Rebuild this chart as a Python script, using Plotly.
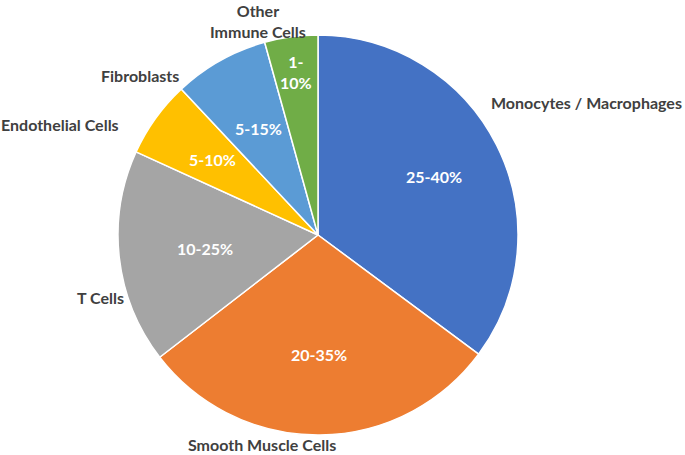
import math
import plotly.graph_objects as go

categories = ["Monocytes / Macrophages", "Smooth Muscle Cells", "T Cells",
              "Endothelial Cells", "Fibroblasts", "Other<br>Immune Cells"]
shares = [35.2, 29.4, 17.3, 6.2, 7.7, 4.3]
range_labels = ["25-40%", "20-35%", "10-25%", "5-10%", "5-15%", "1-<br>10%"]
colors = ["#4472C4", "#ED7D31", "#A5A5A5", "#FFC000", "#5B9BD5", "#70AD47"]

FONT = "Lato"
W, H = 685, 455
L, R, T, B = 118, 167, 35, 20
PW, PH = W - L - R, H - T - B

fig = go.Figure()
fig.add_trace(go.Pie(
    labels=categories, values=shares, text=range_labels,
    sort=False, direction="clockwise", rotation=0,
    marker=dict(colors=colors, line=dict(color="white", width=1.5)),
    textinfo="none", hoverinfo="label+text", showlegend=False,
))

# inside value-range labels: at each slice's mid-angle, radial fraction (style)
label_r = [0.65, 0.60, 0.57, 0.65, 0.61, 0.82]
total = sum(shares)
cum = 0.0
for txt, s, f in zip(range_labels, shares, label_r):
    mid = (cum + s / 2) / total * 2 * math.pi
    cum += s
    x = 0.5 + 0.5 * f * math.sin(mid)
    y = 0.5 + 0.5 * f * math.cos(mid)
    fig.add_annotation(text=txt, x=x, y=y, xref="paper", yref="paper",
                       showarrow=False, xanchor="center", yanchor="middle",
                       font=dict(family=FONT, size=16, color="white", weight="bold"))

# outside category labels (pixel centres in the page)
label_pos = [(586, 102), (262, 445), (100, 297), (60, 125), (140, 75), (258, 21)]

def to_paper(px, py):
    return ((px - L) / PW, 1 - (py - T) / PH)

for name, (px, py) in zip(categories, label_pos):
    x, y = to_paper(px, py)
    fig.add_annotation(text=name, x=x, y=y, xref="paper", yref="paper",
                       showarrow=False, xanchor="center", yanchor="middle",
                       font=dict(family=FONT, size=16, color="#404040", weight="bold"))

fig.update_layout(
    width=W, height=H,
    margin=dict(l=L, r=R, t=T, b=B),
    paper_bgcolor="white", plot_bgcolor="white",
    font=dict(family=FONT),
)
fig.write_html("out.html", config={"displayModeBar": False},
               post_script="document.body.style.margin='0';")
